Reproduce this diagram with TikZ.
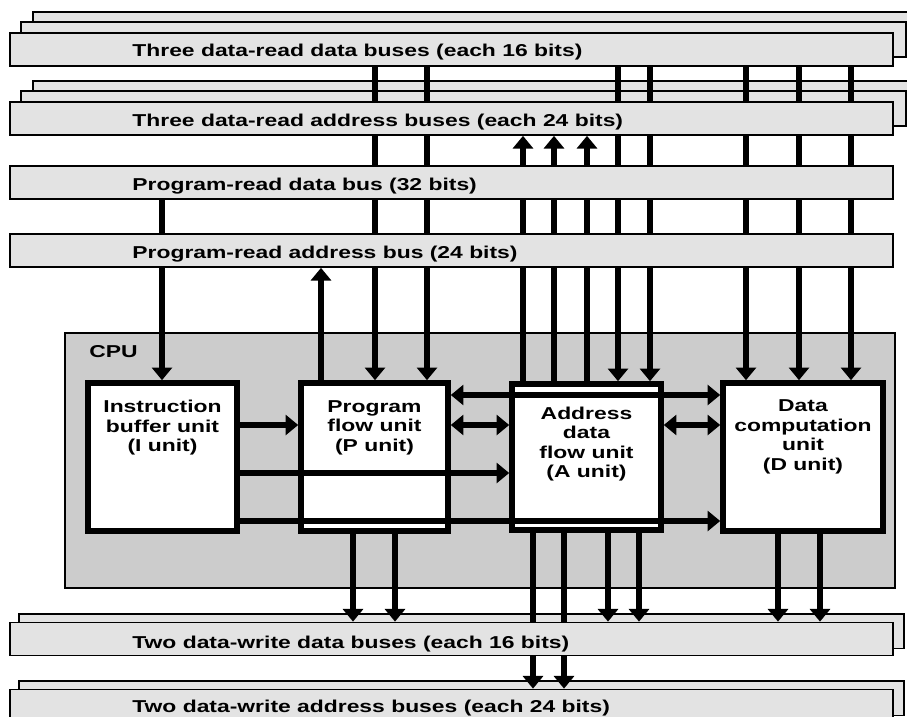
\documentclass[tikz,border=0pt]{standalone}
\usepackage{fontspec}
\newfontfamily\diagfont{Liberation Sans}[FakeStretch=1.33]
\usetikzlibrary{
    arrows.meta,
    positioning,
    backgrounds
}
\definecolor{busfill}{gray}{0.89}
\definecolor{cpufill}{gray}{0.8}
\pgfdeclarelayer{bg}
\pgfdeclarelayer{fg}
\pgfsetlayers{bg,main,fg}

\begin{document}
\begin{tikzpicture}[
        x=0.75pt, y=-0.75pt,
        >={Triangle[length=9.5pt,width=15pt]},
        lbl/.style={font=\diagfont\bfseries\fontsize{12.9}{14.6}\selectfont, inner sep=0pt},
        busbox/.style={draw, line width=1.3pt, fill=busfill, minimum width=883*0.75pt, minimum height=33*0.75pt, inner sep=0pt},
        buslayer/.style={draw, line width=1.3pt, fill=busfill},
        unit/.style={draw, line width=4.2pt, fill=white, minimum height=148*0.75pt, inner sep=0pt},
        unittext/.style={lbl, align=center, anchor=north},
        wire/.style={line width=4.6pt}
    ]
    \useasboundingbox (0,0) rectangle (907,717);

    % buses, front layers
    \begin{pgfonlayer}{fg}
        \node[busbox] (rdd) at (451.5,49.5) {};
        \node[busbox] (rda) at (451.5,118.5) {};
        \node[busbox] (pd) at (451.5,182.5) {};
        \node[busbox] (pa) at (451.5,250.5) {};
        \node[busbox] (wd) at (451.5,639) {};
        \node[busbox] (wa) at (451.5,706) {};

        \node[lbl, anchor=base west] (rddlbl) at ([shift={(123,7.5)}]rdd.west) {Three data-read data buses (each 16 bits)};
        \node[lbl, anchor=base west] (rdalbl) at ([shift={(123,8)}]rda.west) {Three data-read address buses (each 24 bits)};
        \node[lbl, anchor=base west] (pdlbl) at ([shift={(123,8)}]pd.west) {Program-read data bus (32 bits)};
        \node[lbl, anchor=base west] (palbl) at ([shift={(123,7.5)}]pa.west) {Program-read address bus (24 bits)};
        \node[lbl, anchor=base west] (wdlbl) at ([shift={(123,9)}]wd.west) {Two data-write data buses (each 16 bits)};
        \node[lbl, anchor=base west] (walbl) at ([shift={(123,6)}]wa.west) {Two data-write address buses (each 24 bits)};
    \end{pgfonlayer}

    % CPU, units, back layers of the buses
    \begin{pgfonlayer}{bg}
        \foreach \b in {rdd,rda}
            \foreach \k in {2,1}
                \draw[buslayer] ([shift={(12*\k,-10*\k)}]\b.south west) rectangle ([shift={(12*\k,-10*\k)}]\b.north east);
        \foreach \b in {wd,wa}
            \draw[buslayer] ([shift={(10,-8)}]\b.south west) rectangle ([shift={(10,-8)}]\b.north east);

        \node[draw, line width=1.3pt, fill=cpufill, minimum width=830*0.75pt, minimum height=255*0.75pt] (cpu) at (480,460.5) {};
        \node[unit, minimum width=149*0.75pt] (iu) at (162.5,457) {};
        \node[unit, minimum width=147*0.75pt] (pu) at (374.5,457) {};
        \node[unit, minimum width=149*0.75pt, minimum height=146*0.75pt] (au) at (586.5,457) {};
        \node[unit, minimum width=160*0.75pt] (du) at (803,457) {};
    \end{pgfonlayer}

    \node[lbl, anchor=north west] (cpulbl) at ([shift={(25,13)}]cpu.north west) {CPU};
    \node[unittext, below=15pt of iu.north] (iutext) {Instruction\\buffer unit\\(I unit)};
    \node[unittext, below=15pt of pu.north] (putext) {Program\\flow unit\\(P unit)};
    \node[unittext, below=19pt of au.north] (autext) {Address\\data\\flow unit\\(A unit)};
    \node[unittext, below=14.5pt of du.north] (dutext) {Data\\computation\\unit\\(D unit)};

    % columns and rows of the wires
    \foreach \x in {162,321,353,375,395,427,523,533,554,564,587,608,618,639,650,746,778,799,820,851}
        \coordinate (c\x) at (\x,0);
    \foreach \y in {395,425,473,521}
        \coordinate (r\y) at (0,\y);

    % vertical wires
    \draw[wire,->] (pd.south -| c162) -- (iu.north -| c162);
    \draw[wire,->] (pu.north -| c321) -- (pa.south -| c321);
    \foreach \x in {375,427}
        \draw[wire,->] (rdd.south -| c\x) -- (pu.north -| c\x);
    \foreach \x in {618,650}
        \draw[wire,->] (rdd.south -| c\x) -- (au.north -| c\x);
    \foreach \x in {746,799,851}
        \draw[wire,->] (rdd.south -| c\x) -- (du.north -| c\x);
    \foreach \x in {523,554,587}
        \draw[wire,->] (au.north -| c\x) -- (rda.south -| c\x);
    \foreach \x in {353,395}
        \draw[wire,->] (pu.south -| c\x) -- (wd.north -| c\x);
    \foreach \x in {608,639}
        \draw[wire,->] (au.south -| c\x) -- (wd.north -| c\x);
    \foreach \x in {778,820}
        \draw[wire,->] (du.south -| c\x) -- (wd.north -| c\x);
    \foreach \x in {533,564}
        \draw[wire,->] (au.south -| c\x) -- (wa.north -| c\x);

    % horizontal wires
    \draw[wire,<->] (pu.east |- r395) -- (du.west |- r395);
    \draw[wire,->] (iu.east |- r425) -- (pu.west |- r425);
    \draw[wire,<->] (pu.east |- r425) -- (au.west |- r425);
    \draw[wire,<->] (au.east |- r425) -- (du.west |- r425);
    \draw[wire,->] (iu.east |- r473) -- (au.west |- r473);
    \draw[wire,->] (iu.east |- r521) -- (du.west |- r521);
\end{tikzpicture}
\end{document}
